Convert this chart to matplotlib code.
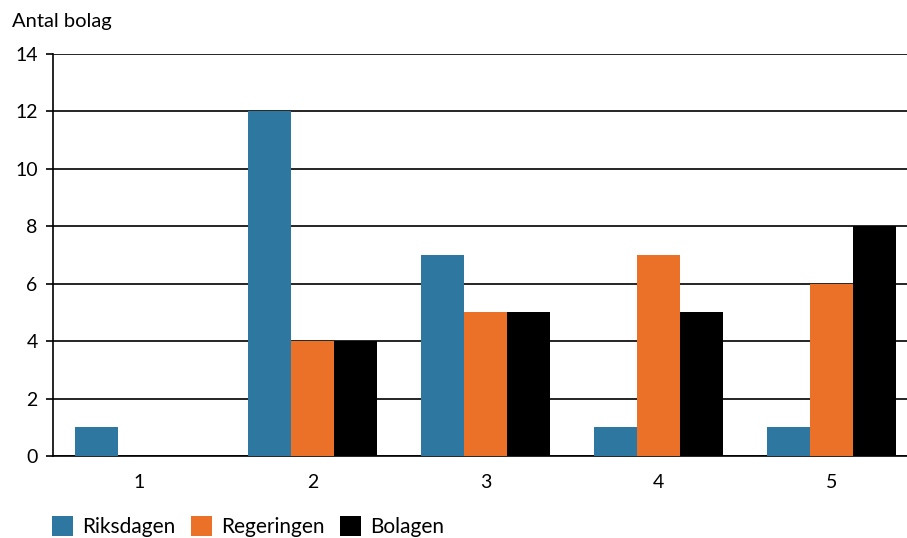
import numpy as np
import matplotlib.pyplot as plt
from matplotlib.patches import Patch

plt.rcParams['font.family'] = ['Lato', 'DejaVu Sans']

# Data
categories = ['1', '2', '3', '4', '5']
riksdagen = [1, 12, 7, 1, 1]
regeringen = [0, 4, 5, 7, 6]
bolagen = [0, 4, 5, 5, 8]

series = [('Riksdagen', riksdagen, '#2E77A0'),
          ('Regeringen', regeringen, '#EA7127'),
          ('Bolagen', bolagen, '#000000')]

fig = plt.figure(figsize=(9.07, 5.38), dpi=100)
ax = fig.add_axes([53 / 907, 1 - 456 / 538, 865 / 907, (456 - 54) / 538])

x = np.arange(len(categories))
w = 0.25
for i, (name, vals, col) in enumerate(series):
    ax.bar(x + (i - 1) * w, vals, width=w, color=col, zorder=3)

ax.set_xlim(-0.5, len(categories) - 0.5)
ax.set_ylim(0, 14)
ax.set_yticks(range(0, 15, 2))
ax.set_xticks(x)
ax.set_xticklabels(categories)
ax.yaxis.grid(True, color='black', linewidth=1.2, zorder=1)
ax.set_axisbelow(True)
for s in ['top', 'right']:
    ax.spines[s].set_visible(False)
ax.spines['left'].set_linewidth(1.2)
ax.spines['bottom'].set_linewidth(1.2)
ax.tick_params(axis='y', length=5, width=1.2, labelsize=14, pad=6)
ax.tick_params(axis='x', length=0, labelsize=14, pad=13)

fig.text(12 / 907, 1 - 22 / 538, 'Antal bolag', fontsize=14.5, va='center', ha='left')

handles = [Patch(facecolor=c, label=n) for n, v, c in series]
fig.legend(handles=handles, loc='upper left', bbox_to_anchor=(52 / 907, 1 - 516 / 538),
           ncol=3, frameon=False, fontsize=15, handlelength=1.0, handleheight=1.1,
           handletextpad=0.45, columnspacing=0.75, borderpad=0, borderaxespad=0)

fig.savefig('out.png', dpi=100)
